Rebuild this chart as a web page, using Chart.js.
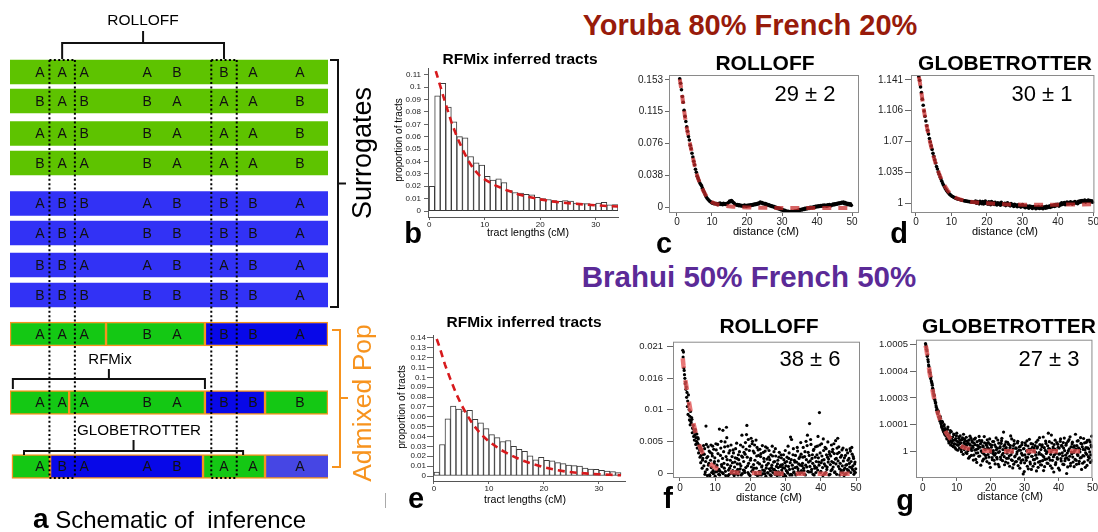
<!DOCTYPE html>
<html>
<head>
<meta charset="utf-8">
<script src="https://cdn.jsdelivr.net/npm/chart.js@4.4.1/dist/chart.umd.min.js"></script>
<style>
  body { margin: 0; background: #fff; width: 1098px; height: 532px; overflow: hidden; position: relative;
         font-family: "Liberation Sans", Arial, sans-serif; }
  canvas { position: absolute; }
  .t { position: absolute; transform: translate(-50%, -50%); line-height: 1; white-space: nowrap; color: #000; }
  .r { transform: translate(-50%, -50%) rotate(-90deg); }
  .b { font-weight: bold; }
</style>
</head>
<body>
<canvas id="schematic"></canvas>
<canvas id="histYoruba"></canvas>
<canvas id="rolloffYoruba"></canvas>
<canvas id="gtYoruba"></canvas>
<canvas id="histBrahui"></canvas>
<canvas id="rolloffBrahui"></canvas>
<canvas id="gtBrahui"></canvas>

<!-- schematic labels -->
<div class="t" style="left:143px;top:20px;font-size:15.5px">ROLLOFF</div>
<div class="t" style="left:110px;top:358px;font-size:15px">RFMix</div>
<div class="t" style="left:139px;top:430px;font-size:15.2px">GLOBETROTTER</div>
<div class="t r" style="left:362px;top:153px;font-size:27px">Surrogates</div>
<div class="t r" style="left:362px;top:403px;font-size:26.5px;color:#f7931e">Admixed Pop</div>
<div style="position:absolute;left:33px;top:507px;font-size:24px;line-height:24px;white-space:pre"><span class="b" style="font-size:28px">a</span> Schematic of  inference</div>
<div style="position:absolute;left:385px;top:493px;width:1px;height:15px;background:#aaa"></div>

<!-- headings -->
<div class="t b" style="left:750px;top:25px;font-size:29px;color:#981b0b">Yoruba 80% French 20%</div>
<div class="t b" style="left:749px;top:277px;font-size:29.5px;color:#5b2a97">Brahui 50% French 50%</div>

<!-- panel titles -->
<div class="t b" style="left:520px;top:59px;font-size:15.5px">RFMix inferred tracts</div>
<div class="t b" style="left:524px;top:322px;font-size:15.5px">RFMix inferred tracts</div>
<div class="t b" style="left:765px;top:62px;font-size:21px">ROLLOFF</div>
<div class="t b" style="left:769px;top:325px;font-size:21px">ROLLOFF</div>
<div class="t b" style="left:1005px;top:62px;font-size:21px">GLOBETROTTER</div>
<div class="t b" style="left:1009px;top:325px;font-size:21px">GLOBETROTTER</div>

<!-- date estimates -->
<div class="t" style="left:805px;top:94px;font-size:22px">29 ± 2</div>
<div class="t" style="left:1042px;top:94px;font-size:22px">30 ± 1</div>
<div class="t" style="left:810px;top:359px;font-size:22px">38 ± 6</div>
<div class="t" style="left:1049px;top:359px;font-size:22px">27 ± 3</div>

<!-- axis titles -->
<div class="t" style="left:528px;top:232px;font-size:10.6px">tract lengths (cM)</div>
<div class="t" style="left:525px;top:499px;font-size:10.6px">tract lengths (cM)</div>
<div class="t r" style="left:399px;top:140px;font-size:10px">proportion of tracts</div>
<div class="t r" style="left:402px;top:407px;font-size:10px">proportion of tracts</div>
<div class="t" style="left:766px;top:231px;font-size:11px">distance (cM)</div>
<div class="t" style="left:1005px;top:231px;font-size:11px">distance (cM)</div>
<div class="t" style="left:769px;top:497px;font-size:11px">distance (cM)</div>
<div class="t" style="left:1010px;top:496px;font-size:11px">distance (cM)</div>

<!-- panel letters -->
<div class="t b" style="left:413px;top:233px;font-size:29px">b</div>
<div class="t b" style="left:664px;top:243px;font-size:29px">c</div>
<div class="t b" style="left:899px;top:233px;font-size:29px">d</div>
<div class="t b" style="left:416px;top:498px;font-size:29px">e</div>
<div class="t b" style="left:668px;top:498px;font-size:29px">f</div>
<div class="t b" style="left:905px;top:500px;font-size:29px">g</div>

<script>
// ---------- schematic ----------
// allele at each of the 8 SNPs, one string per haplotype
const surrogateAlleles = ['AAAABBAA', 'BABBAAAB', 'AABBAAAB', 'BAABAAAB',
                          'ABBABBBA', 'ABABBBBA', 'BBAABABA', 'BBBBBBBA'];
const surrogatePop = ['green', 'green', 'green', 'green', 'blue', 'blue', 'blue', 'blue'];
const admixedAlleles = ['AAABABBA', 'AAABABBB', 'ABAABAAA'];
// SNP positions along the chromosome (0-100)
const snpPos = [9.4, 16.4, 23.3, 43.1, 52.5, 67.3, 76.4, 91.2];
// ancestry tracts of the admixed haplotypes: [start, end, source]
const admixedTracts = [
  [[0, 30.2, 'green'], [30.2, 61.3, 'green'], [61.3, 100, 'blue']],
  [[0, 18.6, 'green'], [18.6, 61.3, 'green'], [61.3, 80.2, 'blue'], [80.2, 100, 'green']],
  [[0.6, 12.6, 'green'], [12.6, 60.7, 'blue'], [60.7, 80.2, 'green'], [80.2, 100.6, 'blue2']]
];
const rolloffPair = [1, 5];           // SNP indices compared by ROLLOFF
const rfmixSpan = [0.9, 61.3];
const globetrotterSpan = [4.4, 73.3];

// ---------- panel b / e : RFMix tract length histograms (1 cM bins) ----------
const tractTickLabels = ['0', '10', '20', '30'];
const yorubaTracts = [0.020, 0.093, 0.103, 0.084, 0.072, 0.060, 0.059, 0.044, 0.039, 0.037,
                      0.028, 0.025, 0.026, 0.023, 0.0165, 0.015, 0.0145, 0.0135, 0.013, 0.011,
                      0.010, 0.0093, 0.0085, 0.0078, 0.0085, 0.008, 0.0065, 0.006, 0.006, 0.0055,
                      0.0065, 0.007, 0.005, 0.0053];
const yorubaTractFitX = [1.2, 2, 3, 4, 5, 6, 7, 8, 9, 10, 12, 14, 16, 18, 20, 22, 24, 26, 28, 30, 32, 34];
const yorubaTractFitY = [0.113, 0.101, 0.086, 0.072, 0.060, 0.050, 0.041, 0.034, 0.029, 0.0255, 0.0205,
                         0.0168, 0.0136, 0.0113, 0.0094, 0.0079, 0.0068, 0.006, 0.0053, 0.0046, 0.0041, 0.0037];
const yorubaTractTicks = ['0', '0.01', '0.02', '0.03', '0.04', '0.05', '0.06', '0.07', '0.08', '0.09', '0.1', '0.11'];

const brahuiTracts = [0.004, 0.032, 0.058, 0.071, 0.068, 0.066, 0.0665, 0.0575, 0.054, 0.048,
                      0.042, 0.039, 0.035, 0.036, 0.030, 0.027, 0.025, 0.0205, 0.0165, 0.019,
                      0.016, 0.0155, 0.0135, 0.0125, 0.011, 0.0105, 0.010, 0.008, 0.007, 0.0068,
                      0.0057, 0.005, 0.0044, 0.0034];
const brahuiTractFitX = [0.5, 1, 2, 3, 4, 5, 6, 7, 8, 9, 10, 12, 14, 16, 18, 20, 22, 24, 26, 28, 30, 32, 34];
const brahuiTractFitY = [0.139, 0.131, 0.113, 0.098, 0.084, 0.072, 0.062, 0.053, 0.046, 0.040, 0.035,
                         0.027, 0.021, 0.016, 0.012, 0.0088, 0.0063, 0.0045, 0.0033, 0.0024, 0.0018, 0.0012, 0.0008];
const brahuiTractTicks = ['0', '0.01', '0.02', '0.03', '0.04', '0.05', '0.06', '0.07', '0.08', '0.09',
                          '0.1', '0.11', '0.12', '0.13', '0.14'];

// ---------- panels c, d, f, g : decay curves vs genetic distance ----------
const distTickLabels = ['0', '10', '20', '30', '40', '50'];
const distStart = 0.8;       // first distance bin (cM)
const smoothStep = 0.25;     // bin spacing in c, d
const noisyStep = 0.2;       // spacing of each of the two interleaved bin sets in f, g
const noisyOddStart = 0.9;

// c: ROLLOFF, Yoruba/French
const rolloffYoruba = [
  0.1545, 0.1490, 0.1412, 0.1330, 0.1262, 0.1165, 0.1092, 0.1030,
  0.0965, 0.0912, 0.0848, 0.0808, 0.0745, 0.0702, 0.0648, 0.0603,
  0.0552, 0.0508, 0.0455, 0.0418, 0.0372, 0.0345, 0.0318, 0.0290,
  0.0272, 0.0255, 0.0228, 0.0201, 0.0178, 0.0152, 0.0128, 0.0110,
  0.0096, 0.0085, 0.0072, 0.0066, 0.0055, 0.0048, 0.0052, 0.0041,
  0.0046, 0.0038, 0.0044, 0.0030, 0.0042, 0.0035, 0.0048, 0.0033,
  0.0040, 0.0029, 0.0045, 0.0036, 0.0031, 0.0042, 0.0038, 0.0050,
  0.0058, 0.0072, 0.0064, 0.0078, 0.0069, 0.0055, 0.0048, 0.0036,
  0.0030, 0.0024, 0.0031, 0.0018, 0.0026, 0.0015, 0.0022, 0.0012,
  0.0019, 0.0011, 0.0024, 0.0016, 0.0009, 0.0021, 0.0014, 0.0025,
  0.0018, 0.0027, 0.0020, 0.0031, 0.0024, 0.0035, 0.0029, 0.0038,
  0.0033, 0.0045, 0.0038, 0.0052, 0.0060, 0.0048, 0.0055, 0.0041,
  0.0046, 0.0035, 0.0042, 0.0028, 0.0034, 0.0021, 0.0027, 0.0015,
  0.0019, 0.0008, 0.0012, 0.0001, 0.0006, -0.0008, -0.0002, -0.0015,
  -0.0010, -0.0022, -0.0016, -0.0030, -0.0025, -0.0038, -0.0033, -0.0045,
  -0.0040, -0.0052, -0.0047, -0.0058, -0.0050, -0.0062, -0.0055, -0.0060,
  -0.0052, -0.0063, -0.0057, -0.0049, -0.0058, -0.0044, -0.0052, -0.0038,
  -0.0045, -0.0031, -0.0039, -0.0026, -0.0033, -0.0020, -0.0028, -0.0016,
  -0.0024, -0.0012, -0.0019, -0.0008, -0.0015, -0.0004, -0.0011, -0.0002,
  -0.0009, 0.0003, -0.0004, 0.0008, 0.0001, 0.0012, 0.0005, 0.0015,
  0.0007, 0.0018, 0.0010, 0.0021, 0.0012, 0.0024, 0.0015, 0.0020,
  0.0011, 0.0026, 0.0018, 0.0030, 0.0022, 0.0016, 0.0028, 0.0035,
  0.0025, 0.0038, 0.0031, 0.0044, 0.0036, 0.0048, 0.0040, 0.0052,
  0.0045, 0.0058, 0.0049, 0.0062, 0.0041, 0.0055, 0.0036, 0.0047,
  0.0030, 0.0042, 0.0025, 0.0038, 0.0021
];
const rolloffYorubaFitX = [0.8, 1, 1.5, 2, 2.5, 3, 3.5, 4, 4.5, 5, 5.5, 6, 6.5, 7, 7.5, 8, 9, 10, 11, 12,
                           14, 16, 18, 20, 25, 30, 35, 40, 45, 50];
const rolloffYorubaFitY = [0.154, 0.149, 0.134, 0.118, 0.103, 0.091, 0.081, 0.071, 0.061, 0.051,
                           0.042, 0.035, 0.029, 0.024, 0.020, 0.016, 0.0095, 0.006, 0.004, 0.0028,
                           0.0014, 0.0005, 0, -0.0004, -0.0009, -0.0011, -0.0012, -0.0012, -0.0012, -0.0012];
const rolloffYorubaTickVals = [0, 0.03825, 0.0765, 0.11475, 0.153];
const rolloffYorubaTicks = ['0', '0.038', '0.076', '0.115', '0.153'];

// d: GLOBETROTTER, Yoruba/French
const gtYoruba = [
  1.1445, 1.1405, 1.1330, 1.1265, 1.1190, 1.1120, 1.1055, 1.0995,
  1.0940, 1.0885, 1.0835, 1.0790, 1.0740, 1.0700, 1.0655, 1.0615,
  1.0570, 1.0535, 1.0495, 1.0460, 1.0420, 1.0390, 1.0355, 1.0330,
  1.0300, 1.0275, 1.0250, 1.0225, 1.0205, 1.0185, 1.0165, 1.0150,
  1.0135, 1.0122, 1.0110, 1.0100, 1.0090, 1.0082, 1.0076, 1.0070,
  1.0064, 1.0060, 1.0055, 1.0051, 1.0048, 1.0044, 1.0041, 1.0038,
  1.0036, 1.0033, 1.0031, 1.0028, 1.0026, 1.0024, 1.0022, 1.0020,
  1.0019, 1.0017, 1.0016, 1.0014, 1.0013, 1.0012, 1.0011, 1.0010,
  1.0025, 0.9998, 1.0019, 1.0004, 0.9992, 1.0021, 1.0006, 0.9995,
  1.0017, 0.9990, 1.0012, 1.0024, 0.9996, 1.0008, 0.9987, 1.0015,
  1.0002, 0.9983, 1.0019, 0.9994, 1.0007, 0.9985, 1.0011, 0.9990,
  0.9979, 1.0005, 0.9988, 0.9997, 0.9976, 1.0009, 0.9984, 0.9993,
  0.9981, 0.9999, 0.9972, 0.9990, 1.0004, 0.9978, 0.9986, 0.9969,
  0.9994, 0.9975, 0.9983, 0.9962, 0.9988, 0.9970, 0.9979, 0.9958,
  0.9981, 0.9966, 0.9974, 0.9955, 0.9972, 0.9983, 0.9959, 0.9967,
  0.9948, 0.9971, 0.9956, 0.9964, 0.9942, 0.9968, 0.9953, 0.9960,
  0.9940, 0.9962, 0.9949, 0.9957, 0.9936, 0.9955, 0.9944, 0.9961,
  0.9938, 0.9952, 0.9943, 0.9960, 0.9937, 0.9949, 0.9958, 0.9941,
  0.9963, 0.9947, 0.9956, 0.9968, 0.9951, 0.9972, 0.9959, 0.9966,
  0.9978, 0.9962, 0.9983, 0.9970, 0.9988, 0.9975, 0.9966, 0.9991,
  0.9980, 1.0003, 0.9986, 0.9995, 1.0008, 0.9983, 0.9999, 1.0012,
  0.9990, 1.0006, 0.9995, 1.0015, 1.0001, 0.9989, 1.0010, 0.9997,
  1.0018, 1.0003, 1.0011, 0.9994, 1.0022, 1.0008, 1.0027, 1.0013,
  1.0030, 1.0016, 1.0025, 1.0034, 1.0012, 1.0028, 1.0021, 1.0036,
  1.0019, 1.0031, 1.0015, 1.0027, 1.0010
];
const gtYorubaFitX = [0.8, 1, 1.5, 2, 2.5, 3, 3.5, 4, 4.5, 5, 5.5, 6, 6.5, 7, 7.5, 8, 9, 10, 11, 12,
                      14, 16, 18, 20, 25, 30, 35, 40, 45, 50];
const gtYorubaFitY = [1.1445, 1.141, 1.128, 1.1125, 1.100, 1.089, 1.079, 1.0695, 1.061, 1.053,
                      1.046, 1.040, 1.034, 1.029, 1.0245, 1.0205, 1.014, 1.0095, 1.0068, 1.0048,
                      1.0025, 1.0012, 1.0005, 1.0, 0.9987, 0.9983, 0.9982, 0.9983, 0.9985, 0.9987];
const gtYorubaTickVals = [1, 1.03525, 1.0705, 1.10575, 1.141];
const gtYorubaTicks = ['1', '1.035', '1.07', '1.106', '1.141'];

// f: ROLLOFF, Brahui/French (even bins 0.8, 1.0, ... and odd bins 0.9, 1.1, ...)
const rolloffBrahui = [
  0.0201, 0.0198, 0.0168, 0.0155, 0.0149, 0.0141, 0.0132, 0.0118, 0.0128, 0.0104,
  0.0093, 0.0101, 0.0082, 0.0088, 0.0074, 0.0078, 0.0069, 0.0062, 0.0071, 0.0058,
  0.0064, 0.0049, 0.0056, 0.0045, 0.0038, 0.0042, 0.0029, 0.0036, 0.0021, 0.0031,
  0.0012, 0.0040, 0.0002, 0.0077, 0.0025, -0.0004, 0.0043, 0.0016, -0.0003, 0.0034,
  0.0046, 0.0001, 0.0028, 0.0004, 0.0039, 0.0019, -0.0005, 0.0048, 0.0011, 0.0003,
  0.0032, -0.0002, 0.0072, 0.0003, 0.0041, 0.0014, 0.0001, 0.0070, 0.0035, 0.0008,
  0.0051, -0.0004, 0.0075, 0.0022, 0.0044, 0.0005, -0.0002, 0.0037, 0.0012, 0.0000,
  0.0027, 0.0004, 0.0033, -0.0004, 0.0018, 0.0040, -0.0001, 0.0024, 0.0006, 0.0030,
  0.0002, 0.0015, 0.0046, -0.0003, 0.0062, 0.0026, 0.0005, 0.0034, 0.0001, 0.0050,
  0.0039, 0.0078, 0.0012, 0.0055, -0.0002, 0.0044, 0.0021, 0.0057, 0.0003, 0.0052,
  0.0036, 0.0008, 0.0046, 0.0001, 0.0054, 0.0028, -0.0004, 0.0038, -0.0003, 0.0015,
  0.0002, 0.0032, 0.0010, 0.0045, -0.0001, 0.0024, 0.0004, 0.0036, -0.0005, 0.0013,
  0.0041, 0.0000, 0.0026, 0.0007, -0.0003, 0.0030, 0.0009, 0.0044, 0.0001, 0.0018,
  0.0006, -0.0002, 0.0028, 0.0011, -0.0004, 0.0021, 0.0002, 0.0034, -0.0001, 0.0013,
  0.0025, 0.0001, 0.0009, 0.0030, -0.0002, 0.0017, -0.0005, 0.0004, 0.0026, 0.0000,
  0.0011, 0.0033, -0.0003, 0.0059, 0.0022, -0.0003, 0.0007, 0.0040, 0.0002, 0.0018,
  0.0029, -0.0002, 0.0010, 0.0036, 0.0003, 0.0024, -0.0001, 0.0013, 0.0031, 0.0001,
  0.0016, 0.0042, 0.0004, 0.0027, -0.0003, 0.0052, 0.0010, 0.0062, 0.0034, 0.0002,
  0.0081, 0.0020, 0.0047, 0.0006, 0.0030, -0.0002, 0.0039, 0.0012, 0.0026, 0.0001,
  0.0009, 0.0044, 0.0060, 0.0018, 0.0099, 0.0033, 0.0003, 0.0048, 0.0021, -0.0004,
  0.0037, 0.0015, 0.0042, 0.0001, 0.0030, 0.0010, 0.0051, 0.0023, 0.0035, -0.0002,
  0.0028, 0.0046, 0.0006, 0.0039, 0.0017, 0.0032, 0.0002, 0.0053, 0.0024, 0.0041,
  0.0057, 0.0011, 0.0034, -0.0003, 0.0026, 0.0005, 0.0038, 0.0001, 0.0020, -0.0004,
  0.0008, 0.0029, -0.0001, 0.0014, 0.0033, 0.0003, 0.0024, 0.0010, 0.0036, 0.0019,
  0.0042, 0.0006, 0.0027, -0.0002, 0.0015, 0.0001
];
const rolloffBrahuiOdd = [
  0.0190, 0.0172, 0.0161, 0.0146, 0.0137, 0.0124, 0.0109, 0.0096, 0.0113, 0.0087,
  0.0079, 0.0085, 0.0091, 0.0066, 0.0073, 0.0060, 0.0054, 0.0067, 0.0047, 0.0052,
  0.0041, 0.0058, 0.0033, 0.0046, 0.0026, 0.0017, 0.0039, 0.0008, 0.0024, 0.0045,
  0.0031, -0.0002, 0.0019, 0.0047, 0.0006, 0.0027, 0.0013, 0.0036, -0.0004, 0.0021,
  0.0009, 0.0032, 0.0044, -0.0001, 0.0016, 0.0025, 0.0002, 0.0038, 0.0013, 0.0047,
  0.0020, 0.0006, -0.0003, 0.0029, 0.0052, 0.0011, 0.0024, -0.0001, 0.0016, 0.0043,
  0.0003, 0.0027, 0.0058, 0.0014, -0.0004, 0.0033, 0.0008, 0.0021, 0.0046, 0.0002,
  0.0017, 0.0038, -0.0002, 0.0010, 0.0025, 0.0003, 0.0049, 0.0015, -0.0003, 0.0022,
  0.0035, 0.0007, 0.0012, 0.0028, -0.0001, 0.0043, 0.0019, 0.0004, 0.0031, 0.0009,
  0.0063, 0.0026, 0.0001, 0.0016, 0.0037, -0.0004, 0.0024, 0.0010, 0.0048, 0.0005,
  0.0014, 0.0033, 0.0021, -0.0002, 0.0008, 0.0042, 0.0017, 0.0029, 0.0003, 0.0039,
  0.0027, -0.0003, 0.0012, 0.0005, 0.0034, 0.0019, -0.0001, 0.0043, 0.0008, 0.0023,
  0.0001, 0.0016, 0.0037, 0.0022, 0.0004, -0.0004, 0.0013, 0.0028, 0.0006, 0.0035,
  0.0019, 0.0040, 0.0003, -0.0001, 0.0015, 0.0009, 0.0026, -0.0003, 0.0011, 0.0030,
  0.0005, 0.0014, -0.0004, 0.0022, 0.0008, 0.0037, 0.0012, 0.0019, 0.0002, 0.0044,
  0.0024, 0.0006, 0.0017, -0.0002, 0.0055, 0.0013, 0.0030, 0.0001, 0.0021, 0.0009,
  -0.0003, 0.0018, 0.0042, 0.0007, 0.0015, 0.0001, 0.0027, 0.0050, 0.0004, 0.0012,
  0.0026, 0.0008, -0.0002, 0.0035, 0.0013, 0.0022, 0.0045, 0.0003, 0.0018, 0.0029,
  0.0011, 0.0055, 0.0002, 0.0024, 0.0016, 0.0037, -0.0003, 0.0008, 0.0043, 0.0019,
  0.0030, 0.0005, 0.0025, 0.0013, 0.0046, 0.0001, 0.0017, 0.0028, 0.0009, 0.0056,
  0.0022, -0.0001, 0.0012, 0.0040, 0.0006, 0.0026, 0.0018, -0.0003, 0.0031, 0.0014,
  0.0004, 0.0019, 0.0035, 0.0010, 0.0048, 0.0001, 0.0023, 0.0015, -0.0002, 0.0032,
  0.0020, 0.0043, 0.0007, 0.0016, 0.0002, 0.0029, 0.0012, 0.0041, 0.0005, 0.0025,
  -0.0002, 0.0013, 0.0038, 0.0006, 0.0021, 0.0004, 0.0016, 0.0040, 0.0001, 0.0009,
  0.0031, 0.0012, 0.0024, 0.0003, 0.0018, 0.0007
];
const rolloffBrahuiFitX = [0.8, 1, 1.5, 2, 2.5, 3, 3.5, 4, 4.5, 5, 5.5, 6, 6.5, 7, 8, 9, 10, 11, 12,
                           14, 16, 18, 20, 25, 30, 35, 40, 45, 50];
const rolloffBrahuiFitY = [0.0188, 0.0176, 0.0153, 0.0136, 0.0118, 0.0102, 0.0090, 0.0077, 0.0065, 0.0055,
                           0.0046, 0.0039, 0.0032, 0.0027, 0.0019, 0.0013, 0.0009, 0.0006, 0.0004,
                           0.0002, 0.0001, 0.00005, 0.00002, 0, -0.0001, -0.0001, -0.0001, -0.0001, -0.0001];
const rolloffBrahuiTickVals = [0, 0.005175, 0.01035, 0.015525, 0.0207];
const rolloffBrahuiTicks = ['0', '0.005', '0.01', '0.016', '0.021'];

// g: GLOBETROTTER, Brahui/French (even and odd bins as in f)
const gtBrahui = [
  1.000505, 1.000490, 1.000470, 1.000452, 1.000420, 1.000398, 1.000381, 1.000362, 1.000349, 1.000325,
  1.000310, 1.000289, 1.000270, 1.000262, 1.000236, 1.000228, 1.000206, 1.000198, 1.000176, 1.000185,
  1.000160, 1.000142, 1.000155, 1.000128, 1.000112, 1.000136, 1.000098, 1.000118, 1.000085, 1.000106,
  1.000072, 1.000094, 1.000061, 1.000114, 1.000048, 1.000083, 1.000055, 1.000030, 1.000092, 1.000041,
  1.000067, 1.000022, 1.000078, 1.000035, 1.000052, 1.000010, 1.000085, 1.000046, 1.000028, 1.000061,
  1.000015, 1.000072, 1.000040, 0.999998, 1.000055, 1.000026, 1.000080, 1.000008, 1.000047, 1.000033,
  1.000066, 0.999990, 1.000038, 1.000012, 1.000052, 0.999975, 1.000029, 1.000061, 1.000004, 1.000043,
  1.000018, 0.999982, 1.000057, 1.000031, 0.999962, 1.000009, 1.000045, 0.999993, 1.000024, 1.000070,
  0.999978, 1.000036, 1.000002, 1.000050, 0.999955, 1.000021, 0.999988, 1.000040, 1.000007, 0.999969,
  1.000028, 1.000054, 0.999985, 1.000012, 0.999944, 1.000033, 0.999996, 1.000019, 0.999971, 1.000046,
  1.000003, 0.999958, 1.000030, 0.999990, 1.000063, 0.999972, 1.000014, 0.999939, 1.000038, 0.999999,
  1.000022, 0.999962, 1.000050, 0.999984, 1.000008, 1.000090, 0.999975, 1.000031, 0.999950, 1.000017,
  0.999991, 1.000042, 0.999968, 1.000006, 0.999930, 1.000027, 0.999984, 1.000058, 0.999957, 1.000011,
  0.999940, 1.000035, 0.999978, 1.000016, 0.999952, 0.999998, 1.000047, 0.999965, 1.000020, 0.999921,
  1.000005, 0.999957, 1.000031, 0.999982, 0.999894, 1.000013, 0.999946, 1.000040, 0.999971, 1.000002,
  0.999930, 1.000025, 0.999988, 1.000056, 0.999950, 1.000009, 0.999915, 0.999977, 1.000034, 0.999961,
  1.000015, 0.999942, 0.999996, 1.000043, 0.999968, 1.000021, 0.999925, 0.999987, 1.000064, 0.999953,
  1.000008, 0.999936, 1.000030, 0.999979, 0.999910, 1.000017, 0.999962, 1.000048, 0.999990, 0.999945,
  1.000026, 1.000085, 0.999970, 1.000011, 0.999932, 0.999997, 1.000039, 0.999958, 1.000020, 0.999903,
  0.999984, 1.000052, 0.999947, 1.000006, 0.999970, 1.000033, 0.999921, 1.000015, 0.999988, 1.000058,
  0.999955, 1.000024, 0.999979, 1.000041, 0.999938, 1.000003, 0.999966, 1.000029, 0.999896, 0.999992,
  1.000047, 0.999961, 1.000012, 1.000068, 0.999944, 0.999996, 1.000034, 0.999973, 1.000019, 0.999928,
  1.000004, 1.000080, 0.999958, 1.000027, 0.999986, 1.000050, 0.999942, 1.000010, 0.999969, 1.000037,
  0.999915, 1.000021, 0.999980, 1.000060, 0.999951, 1.000007, 0.999993, 1.000042, 0.999934, 1.000016,
  0.999975, 1.000053, 0.999997, 0.999948, 1.000029, 1.000071
];
const gtBrahuiOdd = [
  1.000498, 1.000478, 1.000445, 1.000430, 1.000405, 1.000372, 1.000370, 1.000341, 1.000330, 1.000318,
  1.000296, 1.000281, 1.000259, 1.000244, 1.000226, 1.000214, 1.000193, 1.000181, 1.000190, 1.000162,
  1.000151, 1.000164, 1.000133, 1.000119, 1.000141, 1.000104, 1.000092, 1.000125, 1.000079, 1.000097,
  1.000088, 1.000058, 1.000103, 1.000076, 1.000039, 1.000069, 1.000097, 1.000047, 1.000064, 1.000026,
  1.000051, 1.000081, 1.000034, 1.000017, 1.000060, 1.000073, 1.000031, 1.000005, 1.000044, 1.000068,
  1.000036, 1.000052, 1.000009, 1.000021, 1.000063, 0.999986, 1.000040, 1.000057, 1.000019, 0.999994,
  1.000027, 1.000048, 1.000003, 0.999968, 1.000035, 1.000071, 1.000014, 0.999981, 1.000050, 1.000025,
  0.999959, 1.000039, 1.000006, 1.000062, 0.999992, 0.999948, 1.000028, 1.000013, 0.999977, 1.000051,
  1.000019, 0.999935, 1.000044, 0.999995, 1.000026, 0.999963, 1.000069, 1.000010, 0.999981, 1.000036,
  0.999952, 1.000017, 1.000041, 0.999973, 1.000058, 0.999925, 1.000004, 1.000029, 0.999961, 0.999990,
  1.000046, 0.999982, 0.999941, 1.000021, 1.000007, 0.999964, 1.000053, 0.999995, 0.999928, 1.000016,
  0.999973, 1.000037, 1.000061, 0.999956, 0.999991, 1.000024, 0.999937, 1.000009, 1.000044, 0.999967,
  1.000002, 0.999945, 1.000033, 0.999979, 1.000018, 1.000072, 0.999960, 0.999996, 0.999922, 1.000027,
  1.000050, 0.999974, 0.999951, 1.000014, 0.999988, 1.000039, 0.999933, 1.000005, 0.999969, 1.000023,
  0.999946, 0.999990, 1.000041, 0.999960, 1.000012, 0.999905, 0.999983, 1.000029, 0.999958, 1.000049,
  0.999972, 0.999918, 1.000010, 0.999993, 0.999941, 1.000036, 0.999977, 1.000019, 0.999930, 1.000002,
  0.999961, 1.000027, 0.999982, 0.999908, 1.000015, 1.000052, 0.999949, 0.999994, 1.000031, 0.999937,
  0.999985, 1.000021, 0.999956, 1.000067, 0.999973, 0.999928, 1.000004, 1.000037, 0.999964, 0.999998,
  0.999943, 1.000013, 1.000045, 0.999959, 0.999986, 1.000076, 0.999921, 1.000008, 0.999975, 1.000032,
  1.000010, 0.999938, 0.999991, 1.000041, 0.999963, 1.000019, 0.999987, 0.999912, 1.000047, 0.999966,
  1.000028, 0.999993, 0.999940, 1.000015, 1.000062, 0.999956, 0.999982, 1.000037, 0.999969, 0.999927,
  1.000003, 1.000055, 0.999977, 0.999932, 1.000021, 0.999988, 1.000043, 0.999950, 0.999995, 1.000026,
  0.999962, 1.000011, 0.999939, 1.000048, 0.999981, 1.000016, 0.999953, 0.999997, 1.000064, 0.999971,
  1.000034, 0.999944, 1.000009, 0.999978, 1.000040, 0.999925, 1.000018, 0.999986, 1.000051, 0.999959,
  1.000012, 0.999969, 1.000044, 0.999983, 1.000021, 0.999956
];
const gtBrahuiFitX = [0.8, 1, 1.5, 2, 2.5, 3, 3.5, 4, 4.5, 5, 5.5, 6, 7, 8, 9, 10, 12, 14, 16, 18, 20,
                      25, 30, 35, 40, 45, 50];
const gtBrahuiFitY = [1.000495, 1.000485, 1.00043, 1.00037, 1.00032, 1.000275, 1.000237, 1.000204,
                      1.000176, 1.000152, 1.000131, 1.000113, 1.000084, 1.000062, 1.000046, 1.000034,
                      1.000018, 1.00001, 1.000005, 1.000003, 1.000001, 1, 1, 1, 1, 1, 1];
const gtBrahuiTickVals = [1, 1.000125, 1.00025, 1.000375, 1.0005];
const gtBrahuiTicks = ['1', '1.0001', '1.0003', '1.0004', '1.0005'];

// ---------- layout ----------
const rowMid = [72, 101, 133.5, 163, 203.5, 233, 265, 295, 334, 402.5, 466.5];
const rowH = 24;
const popColors = { green: '#5ec300', blue: '#3232f5' };
const tractColors = { green: '#14c814', blue: '#0808e8', blue2: '#4646e4' };
const orange = '#f7931e';
const plotPad = { l: 60, t: 6, r: 2, b: 18 };

Chart.defaults.font.family = '"Liberation Sans", Arial, sans-serif';
Chart.defaults.color = '#222';
Chart.defaults.animation = false;
Chart.defaults.events = [];
Chart.defaults.plugins.legend.display = false;
Chart.defaults.plugins.tooltip.enabled = false;

function mount(id, area, pad) {
  const cv = document.getElementById(id);
  const w = area.r - area.l + pad.l + pad.r;
  const h = area.b - area.t + pad.t + pad.b;
  cv.width = w;
  cv.height = h;
  Object.assign(cv.style, {
    left: (area.l - pad.l) + 'px', top: (area.t - pad.t) + 'px', width: w + 'px', height: h + 'px'
  });
  return cv.getContext('2d');
}

// axis with fixed ticks, its thickness pinned so the plot area lands where we want it
function axis(o) {
  return {
    type: 'linear', min: o.min, max: o.max, offset: false,
    afterFit: s => { if (s.isHorizontal()) s.height = o.size; else s.width = o.size; },
    afterBuildTicks: s => { s.ticks = o.values.map(v => ({ value: v })); },
    border: { display: !!o.border, color: '#555', width: 1 },
    grid: { offset: false, drawOnChartArea: false, drawTicks: true, tickLength: o.tick, color: '#666' },
    ticks: { autoSkip: false, maxRotation: 0, padding: o.padding, font: { size: o.font },
             callback: (v, i) => o.labels[i] }
  };
}

const toXY = (xs, ys) => xs.map((x, i) => ({ x, y: ys[i] }));
const onGrid = (ys, start, step) => ys.map((y, i) => ({ x: +(start + i * step).toFixed(2), y }));

// box around the plotting region, R style
const framePlugin = {
  id: 'frame',
  afterDatasetsDraw(chart) {
    const { ctx, chartArea: a } = chart;
    ctx.save();
    ctx.strokeStyle = '#8a8a8a';
    ctx.lineWidth = 1;
    ctx.strokeRect(a.left + 0.5, a.top + 0.5, a.width - 1, a.height - 1);
    ctx.restore();
  }
};

function histogram(id, area, bins, fitX, fitY, yLabels, xr, yr, ytick, ypad) {
  const tickVals = tractTickLabels.map(Number);
  return new Chart(mount(id, area, plotPad), {
    type: 'bar',
    data: {
      datasets: [
        { type: 'line', data: toXY(fitX, fitY), borderColor: '#d7191c', borderWidth: 2.6,
          borderDash: [7, 5], pointRadius: 0, tension: 0, order: 0 },
        { type: 'bar', data: bins.map((v, i) => ({ x: i + 0.5, y: v })), backgroundColor: '#fff',
          borderColor: '#3a3a3a', borderWidth: 1, borderSkipped: false,
          barPercentage: 1, categoryPercentage: 1, order: 1 }
      ]
    },
    options: {
      responsive: false,
      layout: { padding: { left: 0, top: plotPad.t, right: plotPad.r, bottom: 0 } },
      scales: {
        x: axis({ min: xr[0], max: xr[1], size: plotPad.b, values: tickVals, labels: tractTickLabels,
                  tick: 3, padding: 0, font: 8, border: true }),
        y: axis({ min: yr[0], max: yr[1], size: plotPad.l, values: yLabels.map(Number), labels: yLabels,
                  tick: ytick, padding: ypad, font: 8, border: true })
      }
    }
  });
}

function decay(id, area, dotSets, fitX, fitY, tickVals, tickLabels, xr, yr, cfg) {
  const dots = dotSets.map(d => ({ data: d, pointRadius: cfg.dot, pointBackgroundColor: '#000',
                                   pointBorderWidth: 0, order: 1 }));
  return new Chart(mount(id, area, plotPad), {
    type: 'scatter',
    data: {
      datasets: [
        { type: 'line', data: toXY(fitX, fitY), borderColor: cfg.fitColor, borderWidth: cfg.fitWidth,
          borderDash: cfg.dash, borderCapStyle: 'butt', pointRadius: 0, tension: 0, order: 0 },
        ...dots
      ]
    },
    options: {
      responsive: false,
      layout: { padding: { left: 0, top: plotPad.t, right: plotPad.r, bottom: 0 } },
      scales: {
        x: axis({ min: xr[0], max: xr[1], size: plotPad.b, values: distTickLabels.map(Number),
                  labels: distTickLabels, tick: 3, padding: cfg.xpad, font: 10 }),
        y: axis({ min: yr[0], max: yr[1], size: plotPad.l, values: tickVals, labels: tickLabels,
                  tick: cfg.ytick, padding: cfg.ypad, font: cfg.yfont })
      }
    },
    plugins: [framePlugin]
  });
}

// ---------- schematic chart ----------
const schematicMarks = {
  id: 'schematicMarks',
  afterDatasetsDraw(chart) {
    const { ctx, chartArea: area, scales: { x, y } } = chart;
    const px = v => x.getPixelForValue(v);
    const py = v => y.getPixelForValue(v);
    const line = pts => {
      ctx.beginPath();
      pts.forEach(([a, b], i) => (i ? ctx.lineTo(a, b) : ctx.moveTo(a, b)));
      ctx.stroke();
    };
    ctx.save();

    // alleles
    ctx.font = '14px "Liberation Sans", Arial, sans-serif';
    ctx.fillStyle = '#111';
    ctx.textAlign = 'center';
    ctx.textBaseline = 'middle';
    surrogateAlleles.concat(admixedAlleles).forEach((row, r) => {
      [...row].forEach((a, j) => ctx.fillText(a, px(snpPos[j]), py(rowMid[r]) + 1));
    });

    // method brackets
    ctx.lineWidth = 2;
    ctx.strokeStyle = '#111';
    const bracket = (a, b, yBar, yLeg, yStem) => {
      line([[px(a), yLeg], [px(a), yBar], [px(b), yBar], [px(b), yLeg]]);
      const mid = (px(a) + px(b)) / 2;
      line([[mid, yBar], [mid, yStem]]);
    };
    bracket(snpPos[rolloffPair[0]], snpPos[rolloffPair[1]], 43, 59, 31);
    bracket(rfmixSpan[0], rfmixSpan[1], 379, 389, 369);
    bracket(globetrotterSpan[0], globetrotterSpan[1], 451, 455, 440);

    // group brackets on the right
    const side = (xLine, top, bottom, midY, color) => {
      ctx.strokeStyle = color;
      line([[xLine - 8, top], [xLine, top], [xLine, bottom], [xLine - 8, bottom]]);
      line([[xLine, midY], [xLine + 8, midY]]);
    };
    side(area.right + 10, rowMid[0] - rowH / 2, rowMid[7] + rowH / 2, 183.5, '#111');
    side(area.right + 12, 330, 467, 398, orange);

    // dotted windows around the SNP pair
    ctx.strokeStyle = '#000';
    ctx.setLineDash([2, 2.4]);
    const top = rowMid[0] - rowH / 2, bottom = rowMid[10] + rowH / 2 - 0.5;
    rolloffPair.forEach(k => {
      const l = px(snpPos[k] - 4), r = px(snpPos[k] + 4);
      line([[l, top], [l, bottom]]);
      line([[r, top], [r, bottom]]);
      line([[l, top], [r, top]]);
      line([[l, bottom], [r, bottom]]);
    });
    ctx.restore();
  }
};

const surrogateBars = surrogateAlleles.map((_, i) => ({ x: [0, 100], y: rowMid[i] }));
const tractBars = [];
const tractFill = [];
admixedTracts.forEach((row, r) => row.forEach(([s, e, src]) => {
  tractBars.push({ x: [s, e], y: rowMid[8 + r] });
  tractFill.push(tractColors[src]);
}));

new Chart(mount('schematic', { l: 10, r: 328, t: 0, b: 532 }, { l: 10, r: 57, t: 0, b: 0 }), {
  type: 'bar',
  data: {
    datasets: [
      { data: surrogateBars, backgroundColor: surrogatePop.map(p => popColors[p]), borderWidth: 0 },
      { data: tractBars, backgroundColor: tractFill, borderColor: orange, borderWidth: 1.5, borderSkipped: false }
    ]
  },
  options: {
    responsive: false,
    indexAxis: 'y',
    grouped: false,
    barThickness: rowH,
    layout: { padding: { left: 10, right: 57, top: 0, bottom: 0 } },
    scales: {
      x: { type: 'linear', min: 0, max: 100, display: false },
      y: { type: 'linear', min: 0, max: 532, reverse: true, display: false, offset: false }
    }
  },
  plugins: [schematicMarks]
});

// ---------- data panels ----------
histogram('histYoruba', { l: 428, r: 618, t: 67, b: 217 }, yorubaTracts, yorubaTractFitX, yorubaTractFitY,
          yorubaTractTicks, [-0.2, 34], [-0.0048, 0.1148], 4, 3);
histogram('histBrahui', { l: 433, r: 625, t: 335, b: 481 }, brahuiTracts, brahuiTractFitX, brahuiTractFitY,
          brahuiTractTicks, [-0.18, 34.73], [-0.00507, 0.14304], 6, 1);

const darkFit = { fitColor: 'rgba(200,40,40,0.72)', fitWidth: 4, dash: [9, 7], dot: 1.8, xpad: 0 };
const lightFit = { fitColor: 'rgba(226,80,80,0.78)', fitWidth: 4.5, dash: [10, 12], dot: 1.6, xpad: 1 };

decay('rolloffYoruba', { l: 669, r: 861, t: 73, b: 213 }, [onGrid(rolloffYoruba, distStart, smoothStep)],
      rolloffYorubaFitX, rolloffYorubaFitY, rolloffYorubaTickVals, rolloffYorubaTicks,
      [-2.26, 51.98], [-0.00712, 0.15893], { ...darkFit, ytick: 4, ypad: 2, yfont: 10 });
decay('gtYoruba', { l: 911, r: 1097, t: 73, b: 213 }, [onGrid(gtYoruba, distStart, smoothStep)],
      gtYorubaFitX, gtYorubaFitY, gtYorubaTickVals, gtYorubaTicks,
      [-1.39, 50.28], [0.98872, 1.14664], { ...darkFit, ytick: 6, ypad: 2, yfont: 10 });
decay('rolloffBrahui', { l: 673, r: 862, t: 338, b: 478 },
      [onGrid(rolloffBrahui, distStart, noisyStep), onGrid(rolloffBrahuiOdd, noisyOddStart, noisyStep)],
      rolloffBrahuiFitX, rolloffBrahuiFitY, rolloffBrahuiTickVals, rolloffBrahuiTicks,
      [-1.97, 51.12], [-0.0008, 0.0215], { ...lightFit, ytick: 6, ypad: 4, yfont: 9.5 });
decay('gtBrahui', { l: 916, r: 1097, t: 338, b: 478 },
      [onGrid(gtBrahui, distStart, noisyStep), onGrid(gtBrahuiOdd, noisyOddStart, noisyStep)],
      gtBrahuiFitX, gtBrahuiFitY, gtBrahuiTickVals, gtBrahuiTicks,
      [-2.01, 50], [0.999875, 1.000523], { ...lightFit, ytick: 6, ypad: 2, yfont: 9.5 });
</script>
</body>
</html>
